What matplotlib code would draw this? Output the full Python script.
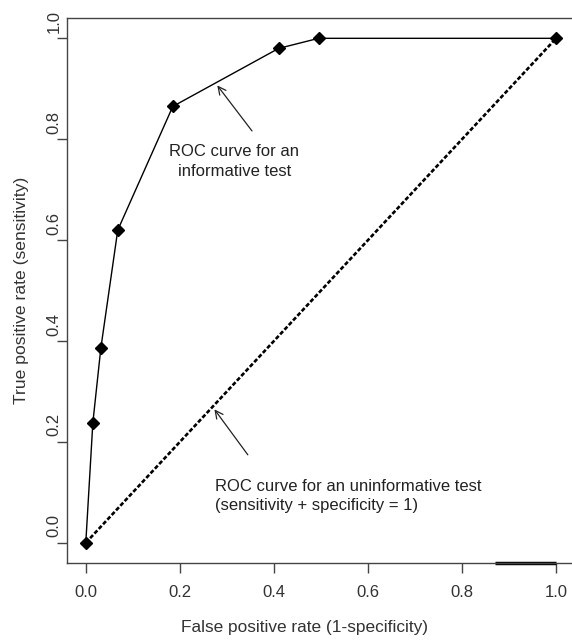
import matplotlib.pyplot as plt
import matplotlib.transforms as mtransforms

plt.rcParams['font.family'] = ['Liberation Sans', 'DejaVu Sans']

# ROC points for the informative test
fpr = [0.0, 0.015, 0.032, 0.068, 0.185, 0.41, 0.495, 1.0]
tpr = [0.0, 0.238, 0.386, 0.62, 0.865, 0.98, 1.0, 1.0]

# uninformative test: the diagonal
diag_x = [0.0, 1.0]
diag_y = [0.0, 1.0]

ticks = [0.0, 0.2, 0.4, 0.6, 0.8, 1.0]
tick_labels = ["0.0", "0.2", "0.4", "0.6", "0.8", "1.0"]

text_col = '#333333'

fig = plt.figure(figsize=(5.72, 6.41), dpi=100)
ax = fig.add_axes([0.1171, 0.1217, 0.888, 0.850])

ax.plot(diag_x, diag_y, color='black', lw=1.9, dashes=(1.6, 0.8), zorder=2)
ax.plot(fpr, tpr, color='black', lw=1.0, marker='D', ms=6.5, zorder=3)

ax.set_xlim(-0.04, 1.04)
ax.set_ylim(-0.04, 1.04)

ax.set_xticks(ticks)
ax.set_xticklabels(tick_labels)
ax.set_yticks(ticks)
ax.set_yticklabels(tick_labels, rotation=90, va='center')

ax.tick_params(axis='x', length=7, width=1, pad=9, colors='#444444',
               labelsize=12, labelcolor=text_col)
ax.tick_params(axis='y', length=7, width=1, pad=-3, colors='#444444',
               labelsize=12, labelcolor=text_col)

# labels on the y axis sit a little above their ticks
shift = mtransforms.ScaledTranslation(0, 17 / 100, fig.dpi_scale_trans)
for lab in ax.get_yticklabels():
    lab.set_transform(lab.get_transform() + shift)

for sp in ax.spines.values():
    sp.set_color('#444444')
    sp.set_linewidth(1.0)
ax.spines['right'].set_visible(False)

ax.set_xlabel("False positive rate (1-specificity)", fontsize=12.4, color=text_col)
ax.set_ylabel("True positive rate (sensitivity)", fontsize=12.6, color=text_col)
ax.xaxis.label.set_va('center')
ax.yaxis.label.set_va('center')
ax.xaxis.set_label_coords(0.4685, -0.119)
ax.yaxis.set_label_coords(-0.0886, 0.50)

ax.annotate("", xy=(0.276, 0.911), xytext=(0.357, 0.812),
            arrowprops=dict(arrowstyle='->', color='#222222', lw=0.9,
                            mutation_scale=14))
ax.text(0.316, 0.756, "ROC curve for an\ninformative test", ha='center',
        va='center', fontsize=12, color='#222222', linespacing=1.35)

ax.annotate("", xy=(0.270, 0.269), xytext=(0.348, 0.170),
            arrowprops=dict(arrowstyle='->', color='#222222', lw=0.9,
                            mutation_scale=14))
ax.text(0.274, 0.092, "ROC curve for an uninformative test\n(sensitivity + specificity = 1)",
        ha='left', va='center', fontsize=12, color='#222222', linespacing=1.35)

# thick stroke on the bottom edge near the right corner
ax.plot([0.87, 1.0], [-0.04, -0.04], color='black', lw=2.5, clip_on=False,
        solid_capstyle='butt')

fig.savefig("out.png", dpi=100)
